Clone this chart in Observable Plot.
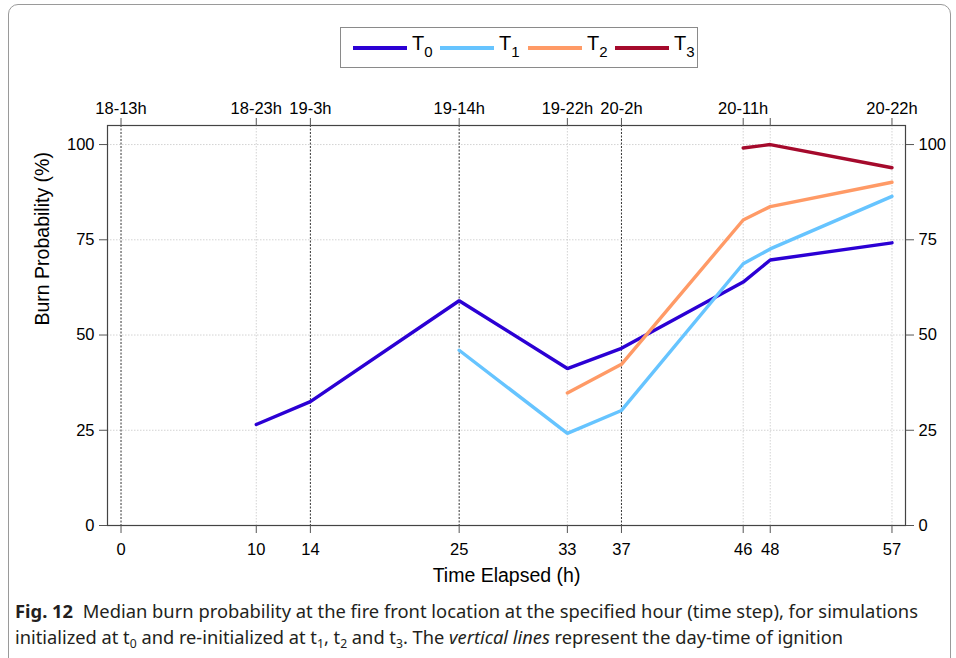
<!DOCTYPE html>
<html>
<head>
<meta charset="utf-8">
<script src="https://cdn.jsdelivr.net/npm/d3@7"></script>
<script src="https://cdn.jsdelivr.net/npm/@observablehq/plot@0.6"></script>
<style>
  html, body { margin: 0; padding: 0; background: #fff; }
  body { width: 956px; height: 658px; position: relative; overflow: hidden; font-family: "Liberation Sans", Arial, sans-serif; }
  #border { position: absolute; left: 8px; top: 4px; width: 943px; height: 720px; border: 1.3px solid #9a9a9a; border-radius: 10px; box-sizing: border-box; }
  #chart { position: absolute; left: 0; top: 0; }
  #legend { position: absolute; left: 340px; top: 27px; width: 358px; height: 41px; border: 1.5px solid #8a8a8a; box-sizing: border-box; background: #fff; }
  .item { position: absolute; top: 0; height: 38px; }
  .item .ln { position: absolute; top: 18px; width: 54px; height: 3.5px; }
  .item .lb { position: absolute; top: 4px; font-size: 20px; color: #000; white-space: nowrap; }
  .item .lb sub { font-size: 15px; vertical-align: -7px; }
  .cap { position: absolute; left: 15px; white-space: nowrap; transform-origin: 0 50%; font-family: "Noto Sans", sans-serif; font-size: 18px; line-height: 24px; color: #231f20; }
  .cap b { font-weight: bold; }
  .cap sub { font-size: 12px; vertical-align: -4px; }
</style>
</head>
<body>
<div id="border"></div>
<div id="chart"></div>
<div id="legend"></div>
<div class="cap" id="cap1" style="top:599px"><b>Fig. 12</b>&nbsp;&nbsp;Median burn probability at the fire front location at the specified hour (time step), for simulations</div>
<div class="cap" id="cap2" style="top:625px">initialized at t<sub>0</sub> and re-initialized at t<sub>1</sub>, t<sub>2</sub> and t<sub>3</sub>. The <i>vertical lines</i> represent the day-time of ignition</div>
<script>
// ---- data ----
const hours = [0, 10, 14, 25, 33, 37, 46, 48, 57];
const topLabels = ["18-13h", "18-23h", "19-3h", "19-14h", "19-22h", "20-2h", "20-11h", "", "20-22h"];
const ignitionHours = [0, 14, 25, 37];
const stepHours = [10, 33, 46, 48, 57];
const yTicks = [0, 25, 50, 75, 100];
const gridY = [25, 50, 75, 100];

const seriesNames = ["T0", "T1", "T2", "T3"];
const seriesColors = ["#2b00d4", "#66c4ff", "#ff9a66", "#a50a2c"];

const t0Hours = [10, 14, 25, 33, 37, 46, 48, 57];
const t0Values = [26.5, 32.5, 59, 41.2, 46.5, 63.9, 69.7, 74.2];
const t1Hours = [25, 33, 37, 46, 48, 57];
const t1Values = [46, 24.2, 30.2, 68.7, 72.6, 86.4];
const t2Hours = [33, 37, 46, 48, 57];
const t2Values = [34.8, 42.3, 80.2, 83.7, 90.1];
const t3Hours = [46, 48, 57];
const t3Values = [99.1, 100, 93.9];

const allHours = [t0Hours, t1Hours, t2Hours, t3Hours];
const allValues = [t0Values, t1Values, t2Values, t3Values];
const rows = [];
seriesNames.forEach((s, i) => {
  allHours[i].forEach((h, j) => rows.push({series: s, hour: h, value: allValues[i][j]}));
});

const chart = Plot.plot({
  width: 956,
  height: 592,
  marginLeft: 107,
  marginRight: 51,
  marginTop: 125,
  marginBottom: 67,
  style: {fontFamily: "'Liberation Sans', Arial, sans-serif", fontSize: "16.5px", color: "#000", background: "transparent"},
  x: {domain: [-1, 58]},
  y: {domain: [0, 105]},
  color: {domain: seriesNames, range: seriesColors},
  marks: [
    Plot.ruleY(gridY, {stroke: "#c8c8c8", strokeWidth: 0.8, strokeDasharray: "1.5,1.5"}),
    Plot.ruleX(stepHours, {stroke: "#c8c8c8", strokeWidth: 0.8, strokeDasharray: "1.5,1.5"}),
    Plot.ruleX(ignitionHours, {stroke: "#000", strokeWidth: 0.8, strokeDasharray: "2,1.5"}),
    Plot.line(rows, {x: "hour", y: "value", z: "series", stroke: "series", strokeWidth: 3.4, strokeLinejoin: "miter"}),
    Plot.frame({stroke: "#444", strokeWidth: 1.2}),
    Plot.axisX({anchor: "bottom", ticks: hours, tickFormat: d => String(d), tickSize: 8, tickPadding: 10, label: null, fontSize: 16.5, stroke: "#555"}),
    Plot.axisX({anchor: "top", ticks: hours, tickFormat: d => topLabels[hours.indexOf(d)], tickSize: 8, tickPadding: 4, label: null, fontSize: 16.5, stroke: "#555"}),
    Plot.axisY({anchor: "left", ticks: yTicks, tickSize: 8, tickPadding: 5, label: null, fontSize: 16.5, stroke: "#555"}),
    Plot.axisY({anchor: "right", ticks: yTicks, tickSize: 8, tickPadding: 5, label: null, fontSize: 16.5, stroke: "#555"}),
    Plot.text(["Time Elapsed (h)"], {frameAnchor: "bottom", dy: 56, fontSize: 19.5, fill: "#000"}),
    Plot.text(["Burn Probability (%)"], {frameAnchor: "left", dx: -65, rotate: -90, fontSize: 19.5, fill: "#000"})
  ]
});
document.getElementById("chart").appendChild(chart);

// legend
const legend = document.getElementById("legend");
const lineLefts = [12, 99, 187, 274];
seriesNames.forEach((s, i) => {
  const it = document.createElement("div");
  it.className = "item";
  it.style.left = lineLefts[i] + "px";
  const ln = document.createElement("div");
  ln.className = "ln";
  ln.style.background = seriesColors[i];
  const lb = document.createElement("div");
  lb.className = "lb";
  lb.style.left = "59px";
  lb.innerHTML = "T<sub>" + s.slice(1) + "</sub>";
  it.appendChild(ln);
  it.appendChild(lb);
  legend.appendChild(it);
});

// fit caption lines to the reference's widths (condensed face)
function fit(id, target) {
  const el = document.getElementById(id);
  const w = el.getBoundingClientRect().width;
  if (w > 0) el.style.transform = "scaleX(" + (target / w) + ")";
}
fit("cap1", 903);
fit("cap2", 828);
</script>
</body>
</html>
